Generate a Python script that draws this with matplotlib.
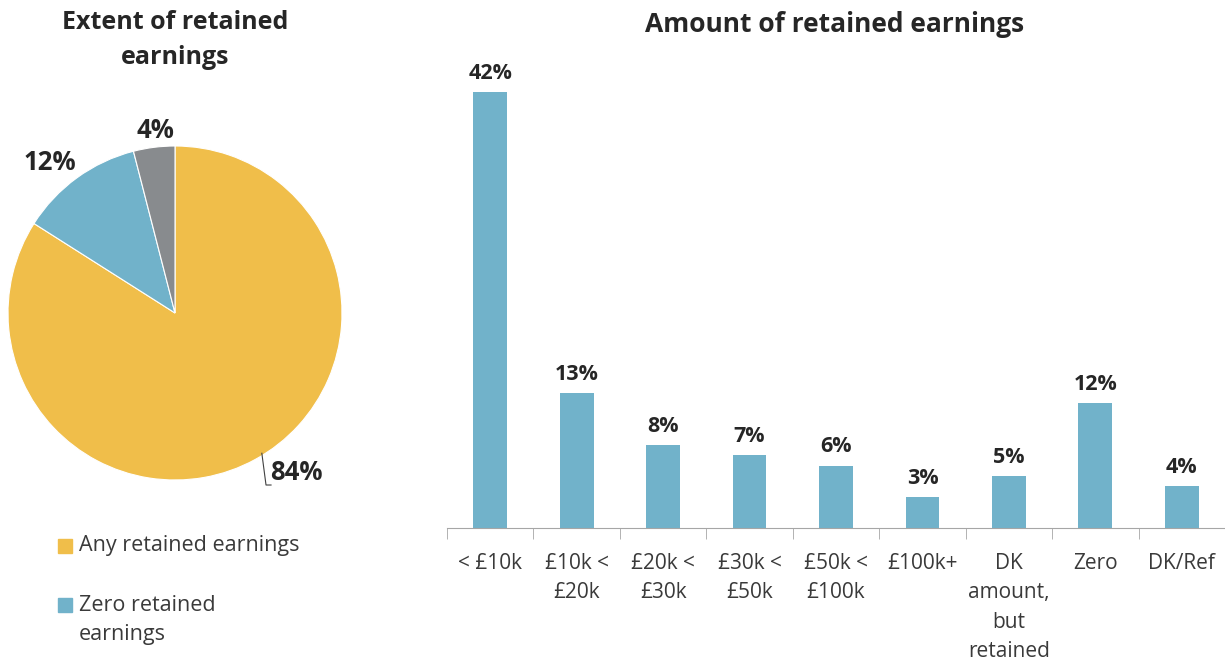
import numpy as np
import matplotlib.pyplot as plt
from matplotlib.patches import Rectangle

plt.rcParams['font.family'] = ['Open Sans', 'DejaVu Sans']

# pie data
pie_labels = ["Any retained earnings", "Zero retained\nearnings", "DK/Ref"]
pie_values = [84, 12, 4]
pie_colors = ["#F0BE4A", "#71B2CA", "#888B8E"]

# bar data
bar_cats = ["< £10k", "£10k <\n£20k", "£20k <\n£30k", "£30k <\n£50k", "£50k <\n£100k",
            "£100k+", "DK\namount,\nbut\nretained", "Zero", "DK/Ref"]
bar_values = [42, 13, 8, 7, 6, 3, 5, 12, 4]
bar_color = "#71B2CA"

W, H = 1225, 664
fig = plt.figure(figsize=(W / 100, H / 100), dpi=100)

def px_axes(left, top, right, bottom):
    return fig.add_axes([left / W, 1 - bottom / H, (right - left) / W, (bottom - top) / H])

# ---- pie ----
ax1 = px_axes(8, 146, 342, 480)
wedges, _ = ax1.pie(pie_values, colors=pie_colors, startangle=90, counterclock=False,
                    radius=1, wedgeprops=dict(linewidth=0.8, edgecolor="white"))
ax1.set_xlim(-1, 1)
ax1.set_ylim(-1, 1)
ax1.set_aspect("equal")

lab_kw = dict(fontsize=18.5, fontweight="bold", color="#262626")
ax1.text(-0.75, 0.90, "12%", ha="center", va="center", **lab_kw)
ax1.text(-0.12, 1.09, "4%", ha="center", va="center", **lab_kw)
# leader line for the big slice
ax1.plot([0.52, 0.545, 0.575], [-0.84, -1.03, -1.03], color="#404040", lw=0.8, clip_on=False)
ax1.text(0.57, -0.955, "84%", ha="left", va="center", **lab_kw)

fig.text(175 / W, 1 - 40 / H, "Extent of retained\nearnings", ha="center", va="center",
         fontsize=18, fontweight="bold", color="#262626", linespacing=1.55)

# legend drawn by hand so the square sits on the first text line
for lab, col, y_sq, y_txt in [(pie_labels[0], pie_colors[0], 546, 546),
                               (pie_labels[1], pie_colors[1], 605, 620)]:
    fig.add_artist(Rectangle((58 / W, 1 - (y_sq + 7) / H), 14 / W, 14 / H,
                             transform=fig.transFigure, color=col))
    fig.text(79 / W, 1 - y_txt / H, lab, ha="left", va="center", fontsize=15.5,
             color="#3a3a3a", linespacing=1.45)

# ---- bars ----
ax2 = px_axes(447, 61, 1225, 528)
x = np.arange(len(bar_cats))
ax2.bar(x, bar_values, width=0.39, color=bar_color)
ax2.set_xlim(-0.5, len(bar_cats) - 0.5)
ax2.set_ylim(0, 45)
for xi, v in zip(x, bar_values):
    ax2.text(xi, v + 0.8, f"{v}%", ha="center", va="bottom", fontsize=15.5,
             fontweight="bold", color="#262626")

ax2.set_xticks(x)
ax2.set_xticklabels(bar_cats, fontsize=15, color="#3a3a3a", linespacing=1.52)
ax2.set_xticks(np.arange(len(bar_cats) + 1) - 0.5, minor=True)
ax2.tick_params(axis="x", which="major", length=0, pad=18)
ax2.tick_params(axis="x", which="minor", length=8, color="#A6A6A6")
ax2.set_yticks([])
for s in ["top", "right", "left"]:
    ax2.spines[s].set_visible(False)
ax2.spines["bottom"].set_color("#A6A6A6")

fig.text(835 / W, 1 - 25 / H, "Amount of retained earnings", ha="center", va="center",
         fontsize=19, fontweight="bold", color="#262626")

fig.savefig("out.png", dpi=100, facecolor="white")
